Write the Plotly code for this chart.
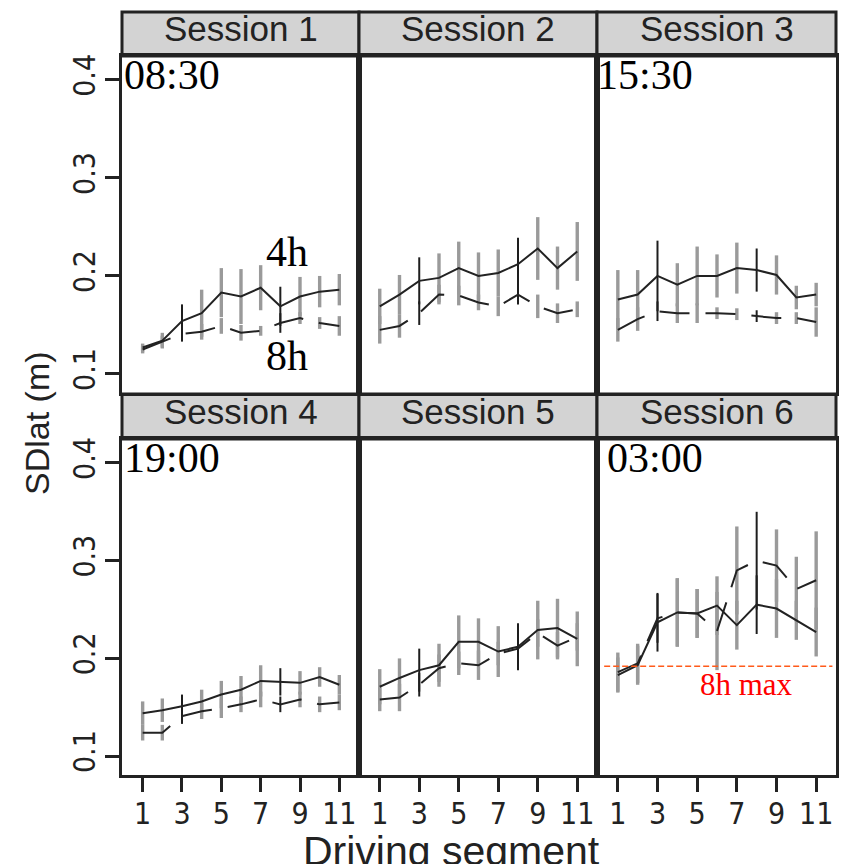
import plotly.graph_objects as go

# ---------------- data ----------------
segments = [1, 2, 3, 4, 5, 6, 7, 8, 9, 10, 11]
session_names = ["Session 1", "Session 2", "Session 3", "Session 4", "Session 5", "Session 6"]
clock_labels = ["08:30", "", "15:30", "19:00", "", "03:00"]
x_tick_vals = [1, 3, 5, 7, 9, 11]
y_tick_vals = [0.1, 0.2, 0.3, 0.4]
y_tick_text = ["0.1", "0.2", "0.3", "0.4"]

s1_4h = [0.127, 0.134, 0.154, 0.162, 0.183, 0.179, 0.188, 0.169, 0.179, 0.184, 0.186]
s1_8h = [0.125, 0.133, 0.141, 0.143, 0.149, 0.142, 0.144, 0.152, 0.157, 0.152, 0.149]
s1_4h_err = [0.004, 0.008, 0.017, 0.024, 0.025, 0.028, 0.023, 0.020, 0.020, 0.016, 0.016]
s1_8h_err = [0.004, 0.006, 0.008, 0.008, 0.008, 0.008, 0.005, 0.010, 0.006, 0.006, 0.010]

s2_4h = [0.169, 0.181, 0.195, 0.198, 0.208, 0.200, 0.203, 0.212, 0.228, 0.208, 0.225]
s2_8h = [0.145, 0.149, 0.162, 0.181, 0.180, 0.173, 0.169, 0.181, 0.169, 0.162, 0.166]
s2_4h_err = [0.018, 0.020, 0.024, 0.025, 0.027, 0.024, 0.024, 0.027, 0.032, 0.022, 0.030]
s2_8h_err = [0.014, 0.012, 0.012, 0.010, 0.010, 0.008, 0.010, 0.010, 0.012, 0.010, 0.008]

s3_4h = [0.176, 0.181, 0.200, 0.191, 0.200, 0.200, 0.208, 0.206, 0.201, 0.178, 0.181]
s3_8h = [0.145, 0.156, 0.164, 0.162, 0.162, 0.162, 0.161, 0.159, 0.157, 0.157, 0.153]
s3_4h_err = [0.030, 0.025, 0.036, 0.022, 0.030, 0.022, 0.026, 0.022, 0.020, 0.012, 0.012]
s3_8h_err = [0.012, 0.012, 0.010, 0.010, 0.010, 0.006, 0.006, 0.006, 0.006, 0.006, 0.015]

s4_4h = [0.144, 0.147, 0.151, 0.156, 0.163, 0.168, 0.177, 0.176, 0.175, 0.181, 0.173]
s4_8h = [0.124, 0.124, 0.141, 0.146, 0.149, 0.153, 0.158, 0.153, 0.158, 0.153, 0.155]
s4_4h_err = [0.012, 0.012, 0.012, 0.012, 0.014, 0.014, 0.016, 0.014, 0.012, 0.010, 0.010]
s4_8h_err = [0.008, 0.008, 0.008, 0.008, 0.010, 0.008, 0.008, 0.008, 0.008, 0.008, 0.008]

s5_4h = [0.171, 0.180, 0.188, 0.193, 0.217, 0.217, 0.207, 0.212, 0.229, 0.231, 0.220]
s5_8h = [0.158, 0.160, 0.173, 0.190, 0.195, 0.193, 0.205, 0.210, 0.226, 0.213, 0.222]
s5_4h_err = [0.018, 0.020, 0.022, 0.022, 0.027, 0.024, 0.026, 0.024, 0.030, 0.030, 0.028]
s5_8h_err = [0.012, 0.014, 0.012, 0.014, 0.012, 0.015, 0.012, 0.020, 0.014, 0.014, 0.014]

s6_4h = [0.183, 0.193, 0.237, 0.247, 0.246, 0.254, 0.234, 0.255, 0.251, 0.239, 0.227]
s6_8h = [0.186, 0.195, 0.241, 0.247, 0.246, 0.228, 0.290, 0.300, 0.295, 0.271, 0.280]
s6_4h_err = [0.018, 0.020, 0.030, 0.035, 0.025, 0.030, 0.025, 0.030, 0.030, 0.020, 0.025]
s6_8h_err = [0.020, 0.020, 0.025, 0.035, 0.025, 0.040, 0.045, 0.050, 0.037, 0.033, 0.050]

max_8h_level = 0.192   # reference line in Session 6

values_4h = [s1_4h, s2_4h, s3_4h, s4_4h, s5_4h, s6_4h]
values_8h = [s1_8h, s2_8h, s3_8h, s4_8h, s5_8h, s6_8h]
errors_4h = [s1_4h_err, s2_4h_err, s3_4h_err, s4_4h_err, s5_4h_err, s6_4h_err]
errors_8h = [s1_8h_err, s2_8h_err, s3_8h_err, s4_8h_err, s5_8h_err, s6_8h_err]

# ---------------- styling / layout ----------------
W, H = 841, 864
col_px = [(122, 359), (359, 597), (597, 836)]
row_plot_px = [(54, 392), (438, 775)]
row_strip_px = [(10, 54), (393, 438)]
clock_xshift = [0, 0, -2, 0, 0, 8]
crisp_segments = {3, 8}
DARK = "#222222"
SANS = "Liberation Sans Narrow, Arial Narrow, DejaVu Sans Condensed, Liberation Sans, Arial"
SERIF = "Liberation Serif, Times New Roman, serif"
x_range = [-0.05, 12.0]
y_range = [0.0805, 0.4245]

def px_x(v):
    return v / W

def px_y(v):
    return 1 - v / H

fig = go.Figure()
layout_axes = {}
shapes = []
annotations = []

for i in range(6):
    r, c = divmod(i, 3)
    n = i + 1
    xa = "x" if n == 1 else f"x{n}"
    ya = "y" if n == 1 else f"y{n}"
    xkey = "xaxis" if n == 1 else f"xaxis{n}"
    ykey = "yaxis" if n == 1 else f"yaxis{n}"

    # error bars (built from values and errors)
    for vals, errs in ((values_4h[i], errors_4h[i]), (values_8h[i], errors_8h[i])):
        for crisp in (False, True):
            ex, ey = [], []
            for s, v, e in zip(segments, vals, errs):
                if (s in crisp_segments) == crisp:
                    ex += [s, s, None]
                    ey += [v - e, v + e, None]
            fig.add_trace(go.Scatter(
                x=ex, y=ey, xaxis=xa, yaxis=ya, mode="lines",
                line=dict(color="#1e1e1e" if crisp else "#9a9a9a", width=2 if crisp else 3.4),
                showlegend=False, hoverinfo="skip"))
    # lines
    fig.add_trace(go.Scatter(x=segments, y=values_4h[i], xaxis=xa, yaxis=ya, mode="lines",
                             line=dict(color=DARK, width=2), showlegend=False, name="4h"))
    fig.add_trace(go.Scatter(x=segments, y=values_8h[i], xaxis=xa, yaxis=ya, mode="lines",
                             line=dict(color=DARK, width=2, dash="30px,16px"),
                             showlegend=False, name="8h"))

    bottom = r == 1
    left = c == 0
    layout_axes[xkey] = dict(
        domain=[px_x(col_px[c][0]), px_x(col_px[c][1])], anchor=ya, range=x_range,
        showgrid=False, zeroline=False, showline=True, mirror=True, linewidth=3, linecolor=DARK,
        tickvals=x_tick_vals if bottom else [], ticks="outside" if bottom else "",
        ticklen=14, tickwidth=2.5, tickcolor=DARK, showticklabels=bottom,
        ticklabelstandoff=-4,
        tickfont=dict(family=SANS, size=30, color=DARK))
    layout_axes[ykey] = dict(
        domain=[px_y(row_plot_px[r][1]), px_y(row_plot_px[r][0])], anchor=xa, range=y_range,
        showgrid=False, zeroline=False, showline=True, mirror=True, linewidth=3, linecolor=DARK,
        tickvals=y_tick_vals if left else [], ticktext=y_tick_text if left else [],
        ticks="outside" if left else "", ticklen=14, tickwidth=2.5, tickcolor=DARK,
        showticklabels=left, tickangle=-90, ticklabelstandoff=-2,
        tickfont=dict(family=SANS, size=30, color=DARK))

    # strip
    shapes.append(dict(type="rect", xref="paper", yref="paper",
                       x0=px_x(col_px[c][0]), x1=px_x(col_px[c][1]),
                       y0=px_y(row_strip_px[r][1]), y1=px_y(row_strip_px[r][0]),
                       fillcolor="#d3d3d3", line=dict(color=DARK, width=3), layer="below"))
    annotations.append(dict(text=session_names[i], xref="paper", yref="paper",
                            x=px_x((col_px[c][0] + col_px[c][1]) / 2),
                            y=px_y((row_strip_px[r][0] + row_strip_px[r][1]) / 2),
                            xanchor="center", yanchor="middle", yshift=5,
                            showarrow=False, font=dict(family="Liberation Sans, Arial", size=35, color=DARK)))
    if clock_labels[i]:
        annotations.append(dict(text=clock_labels[i], xref=f"{xa} domain", yref=f"{ya} domain",
                                x=0, y=1, xanchor="left", yanchor="top", xshift=clock_xshift[i],
                                yshift=6, showarrow=False,
                                font=dict(family=SERIF, size=42, color="black")))

# labels in session 1
annotations.append(dict(text="4h", xref="x domain", yref="y domain", x=0.696, y=0.417,
                        xanchor="center", yanchor="middle",
                        showarrow=False, font=dict(family=SERIF, size=42, color="black")))
annotations.append(dict(text="8h", xref="x domain", yref="y domain", x=0.696, y=0.109,
                        xanchor="center", yanchor="middle",
                        showarrow=False, font=dict(family=SERIF, size=42, color="black")))

# 8h max reference line in session 6
shapes.append(dict(type="line", xref="x6 domain", yref="y6", x0=0.03, x1=0.985,
                   y0=max_8h_level, y1=max_8h_level,
                   line=dict(color="#ff5a1a", width=1.5, dash="6px,3px")))
annotations.append(dict(text="8h max", xref="x6 domain", yref="y6 domain", x=0.626, y=0.27,
                        xanchor="center", yanchor="middle",
                        showarrow=False, font=dict(family=SERIF, size=31, color="#ff0000")))

# axis titles
annotations.append(dict(text="SDlat (m)", xref="paper", yref="paper", x=px_x(37), y=px_y(422),
                        xanchor="center", yanchor="middle",
                        textangle=-90, showarrow=False,
                        font=dict(family="Liberation Sans, Arial", size=34, color=DARK)))
annotations.append(dict(text="Driving segment", xref="paper", yref="paper", x=px_x(452), y=px_y(826),
                        xanchor="center", yanchor="top", showarrow=False,
                        font=dict(family="Liberation Sans, Arial", size=41, color=DARK)))

fig.update_layout(width=W, height=H, margin=dict(l=0, r=0, t=0, b=0),
                  paper_bgcolor="white", plot_bgcolor="white",
                  shapes=shapes, annotations=annotations, **layout_axes)

fig.write_html("out.html")
